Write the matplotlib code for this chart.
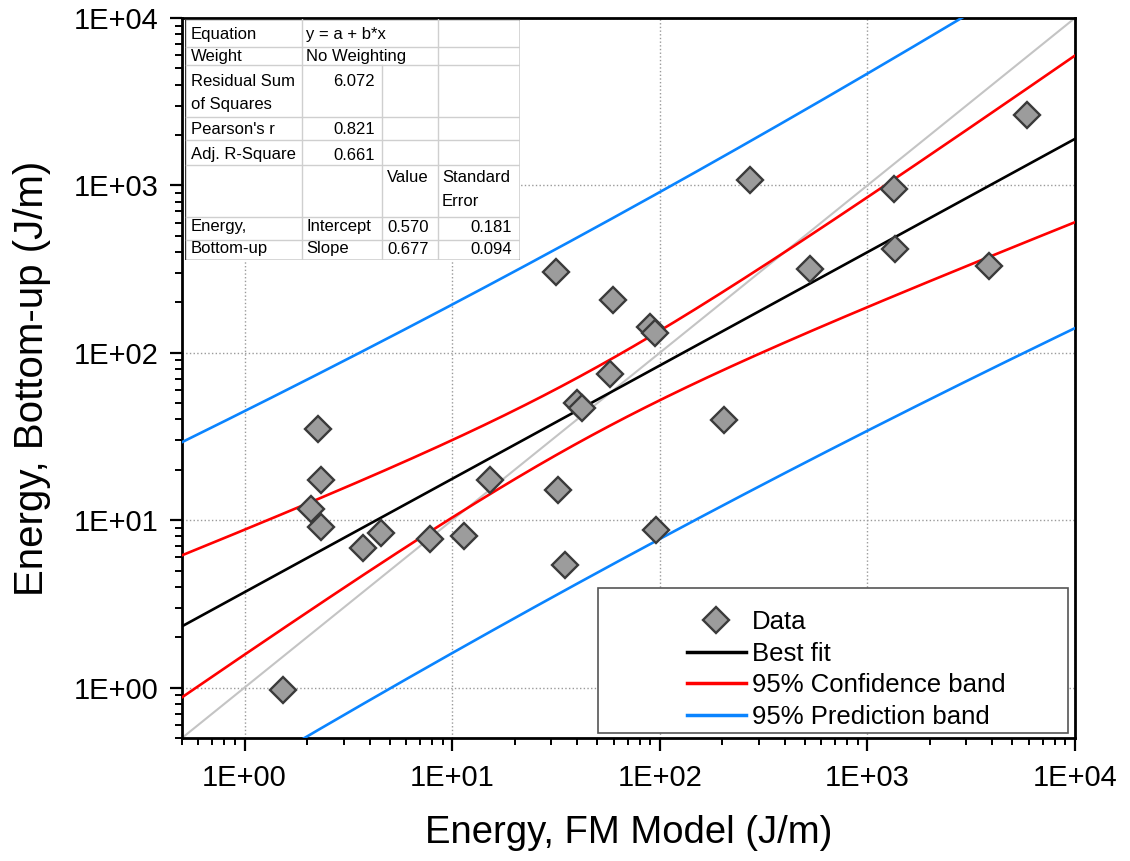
import numpy as np
import matplotlib.pyplot as plt
from matplotlib.lines import Line2D
from matplotlib.patches import Rectangle
from matplotlib.ticker import LogLocator, FuncFormatter, NullFormatter

plt.rcParams['font.family'] = ['Liberation Sans', 'DejaVu Sans']

# Data (FM model vs bottom-up energy, J/m)
energy_fm = [1.54, 2.27, 2.34, 2.08, 2.34, 3.73, 4.56, 7.84, 11.4, 15.2,
             31.6, 32.3, 34.9, 39.9, 42.2, 57.5, 59.4, 89.5, 94.6, 95.7,
             203, 271, 532, 1349, 1364, 3860, 5875]
energy_bu = [0.97, 35.2, 17.5, 11.6, 9.1, 6.85, 8.4, 7.76, 8.0, 17.5,
             305, 15.2, 5.42, 50.3, 47.0, 75.0, 207, 143, 132, 8.78,
             39.8, 1078, 317, 953, 418, 331, 2636]

# Fit results (log10 space) as printed in the table
intercept, intercept_se = 0.570, 0.181
slope, slope_se = 0.677, 0.094
rss = 6.072
pearson_r = 0.821
adj_r2 = 0.661
t_crit = 2.0595  # t(0.975, n-2 = 25)

xlim = [0.5, 1e4]
ylim = [0.5, 1e4]

# confidence / prediction bands of the linear fit in log space
X = np.log10(energy_fm)
n = len(X)
s = np.sqrt(rss / (n - 2))
xmean = X.mean()
sxx = ((X - xmean) ** 2).sum()
xg = np.linspace(np.log10(xlim[0]), np.log10(xlim[1]), 300)
yfit = intercept + slope * xg
conf = t_crit * s * np.sqrt(1.0 / n + (xg - xmean) ** 2 / sxx)
pred = t_crit * s * np.sqrt(1.0 + 1.0 / n + (xg - xmean) ** 2 / sxx)

fig = plt.figure(figsize=(11.3, 8.61), dpi=100)
ax = fig.add_axes([182 / 1130, 1 - 738 / 861, 893 / 1130, 720 / 861])

blue = '#0a84ff'
ax.plot(xlim, ylim, color='#c4c4c4', lw=1.5, zorder=2)
ax.plot(10 ** xg, 10 ** (yfit + pred), color=blue, lw=1.9, zorder=3)
ax.plot(10 ** xg, 10 ** (yfit - pred), color=blue, lw=1.9, zorder=3)
ax.plot(10 ** xg, 10 ** (yfit + conf), color='#ff0000', lw=1.9, zorder=3)
ax.plot(10 ** xg, 10 ** (yfit - conf), color='#ff0000', lw=1.9, zorder=3)
ax.plot(10 ** xg, 10 ** yfit, color='black', lw=1.9, zorder=3)
ax.plot(energy_fm, energy_bu, ls='none', marker='D', ms=13.5, mfc='#9c9c9c',
        mec='#3a3a3a', mew=1.7, zorder=4)

ax.set_xscale('log')
ax.set_yscale('log')
ax.set_xlim(xlim)
ax.set_ylim(ylim)

fmt = FuncFormatter(lambda v, p: '1E+%02d' % int(round(np.log10(v))))
for axis in (ax.xaxis, ax.yaxis):
    axis.set_major_locator(LogLocator(base=10, numticks=10))
    axis.set_minor_locator(LogLocator(base=10, subs=np.arange(2, 10), numticks=10))
    axis.set_major_formatter(fmt)
    axis.set_minor_formatter(NullFormatter())
ax.tick_params(which='major', direction='out', length=9, width=1.6, labelsize=21, pad=8)
ax.tick_params(which='minor', direction='out', length=5, width=1.4)
ax.tick_params(axis='x', which='major', pad=10)
for sp in ax.spines.values():
    sp.set_linewidth(2.0)
ax.grid(True, which='major', ls=':', color='#9a9a9a', lw=1.0)
ax.set_axisbelow(True)

ax.set_xlabel('Energy, FM Model (J/m)', fontsize=27.5, labelpad=16)
ax.set_ylabel('Energy, Bottom-up (J/m)', fontsize=29, labelpad=16)

# legend box
ax.add_patch(Rectangle((0.466, 0.007), 0.526, 0.201, transform=ax.transAxes,
                       facecolor='white', edgecolor='#555555', lw=1.2, zorder=5))
handles = [
    Line2D([], [], ls='none', marker='D', ms=13.5, mfc='#9c9c9c', mec='#3a3a3a', mew=1.7),
    Line2D([], [], color='black', lw=2.5),
    Line2D([], [], color='#ff0000', lw=2.5),
    Line2D([], [], color=blue, lw=2.5),
]
labels = ['Data', 'Best fit', '95% Confidence band', '95% Prediction band']
leg = ax.legend(handles, labels, loc='upper left', bbox_to_anchor=(0.565, 0.178),
                frameon=False, fontsize=18.5, handlelength=2.3, handletextpad=0.25,
                labelspacing=0.30, borderpad=0, borderaxespad=0)
leg.set_zorder(6)

# statistics table, in pixel coordinates
tx0, tx1, ty0, ty1 = 185, 520, 19, 260
tab = fig.add_axes([tx0 / 1130, 1 - ty1 / 861, (tx1 - tx0) / 1130, (ty1 - ty0) / 861])
tab.set_xlim(tx0, tx1)
tab.set_ylim(ty1, ty0)
tab.axis('off')
tab.add_patch(Rectangle((tx0, ty0), tx1 - tx0, ty1 - ty0, facecolor='white',
                        edgecolor='#333333', lw=1.0))
cols = [186, 302, 382, 438, 520]
rows = [19, 47, 65, 117, 140, 165, 217, 240, 260]
lc = '#cfcfcf'
for r in rows[1:-1]:
    tab.plot([tx0 + 1, tx1 - 1], [r, r], color=lc, lw=1.0)
tab.plot([cols[1], cols[1]], [ty0, ty1], color=lc, lw=1.0)
tab.plot([cols[2], cols[2]], [rows[2], ty1], color=lc, lw=1.0)
tab.plot([cols[3], cols[3]], [ty0, ty1], color=lc, lw=1.0)

fs = 12
def cell(x, y, s, ha='left'):
    tab.text(x, y, s, fontsize=fs, ha=ha, va='center')

cell(191, 34, 'Equation')
cell(306, 34, 'y = a + b*x')
cell(191, 57, 'Weight')
cell(306, 57, 'No Weighting')
cell(191, 82, 'Residual Sum')
cell(191, 105, 'of Squares')
cell(375, 82, '%.3f' % rss, 'right')
cell(191, 130, "Pearson's r")
cell(375, 130, '%.3f' % pearson_r, 'right')
cell(191, 155, 'Adj. R-Square')
cell(375, 155, '%.3f' % adj_r2, 'right')
cell(429, 178, 'Value', 'right')
cell(442, 178, 'Standard')
cell(442, 202, 'Error')
cell(191, 227, 'Energy,')
cell(191, 249, 'Bottom-up')
cell(306, 227, 'Intercept')
cell(306, 249, 'Slope')
cell(429, 227, '%.3f' % intercept, 'right')
cell(429, 249, '%.3f' % slope, 'right')
cell(512, 227, '%.3f' % intercept_se, 'right')
cell(512, 249, '%.3f' % slope_se, 'right')

fig.savefig('out.png', dpi=100)
